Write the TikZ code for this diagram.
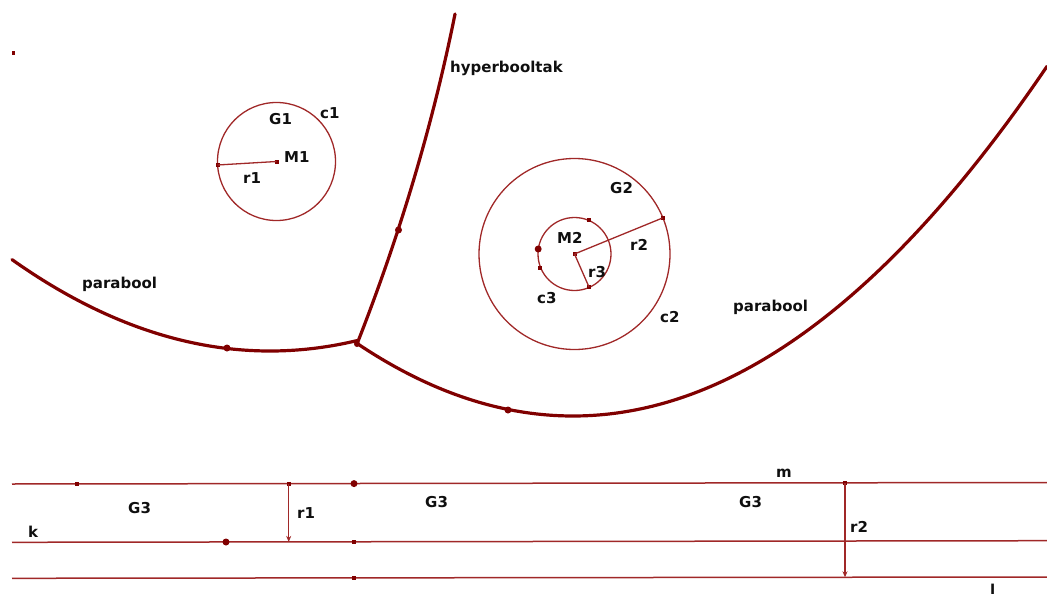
\documentclass[tikz,border=0pt]{standalone}
\usepackage{fontspec}
\setmainfont{DejaVu Sans}
\usetikzlibrary{arrows.meta}
\definecolor{curvered}{RGB}{128,0,0}
\definecolor{linered}{RGB}{160,40,40}
\definecolor{txt}{RGB}{15,15,15}
\begin{document}
\begin{tikzpicture}[x=1pt,y=-1pt,
  lbl/.style={anchor=base west,inner sep=0pt,text=txt,font=\fontsize{15}{18}\selectfont\bfseries},
  curve/.style={draw=curvered,line width=3.2pt,line join=round,line cap=round},
  circline/.style={draw=linered,line width=1.3pt},
  straight/.style={draw=linered,line width=1.5pt},
  bigdot/.style={fill=curvered,draw=none,circle,minimum size=7pt,inner sep=0pt},
  smalldot/.style={fill=curvered,draw=none,rectangle,minimum size=4pt,inner sep=0pt},
  arr/.style={straight,-{Stealth[length=6pt,width=5pt]}}
]
\useasboundingbox (0,0) rectangle (1047,594);

% tiny mark top left
\fill[curvered] (12,51) rectangle (14.5,55.5);

% conic curves
\draw[curve] plot[domain=12:357,samples=80] (\x,{351-0.001367*(\x-270)*(\x-270)});
\draw[curve] plot[domain=357:1047,samples=120] (\x,{416-0.00155*(\x-573)*(\x-573)});
\draw[curve] plot[domain=0:330,samples=60] ({357+0.3927*\x-0.00029*\x*\x},{344-\x});
\node[bigdot,minimum size=6pt] (J) at (357,344) {};
\node[bigdot] (H1) at (398.5,230) {};
\node[bigdot] (P1) at (227,348) {};
\node[bigdot] (P2) at (508,410) {};

% circle c1
\coordinate (M1) at (276.5,161.5);
\draw[circline] (M1) circle[radius=59];
\node[smalldot] (M1d) at (M1) {};
\node[smalldot] (A1) at (217.5,165) {};
\draw[circline] (M1d.center) -- (A1.center);

% circles c2, c3
\coordinate (M2) at (574.5,254);
\draw[circline] (M2) circle[radius=95.5];
\draw[circline] (M2) circle[radius=36.5];
\node[smalldot] (M2d) at (M2) {};
\node[smalldot] (B2) at (662.5,218) {};
\node[smalldot] (C3a) at (588.5,219.5) {};
\node[bigdot] (C3b) at (538.2,249) {};
\node[smalldot] (C3c) at (539.5,267.5) {};
\node[smalldot] (C3d) at (589,287) {};
\draw[circline] (M2d.center) -- (B2.center);
\draw[circline] (M2d.center) -- (C3d.center);

% parallel lines
\coordinate (T0) at (12,484);
\coordinate (T1) at (1047,482.5);
\coordinate (K0) at (12,542.3);
\coordinate (K1) at (1047,540.7);
\coordinate (L0) at (12,578.3);
\coordinate (L1) at (1047,577);
\draw[straight] (T0) -- (T1);
\draw[straight] (K0) -- (K1);
\draw[straight] (L0) -- (L1);
\node[smalldot] (T77) at (77,484) {};
\node[smalldot] (T289) at (288.7,483.7) {};
\node[bigdot] (T354) at (354,483.6) {};
\node[bigdot] (K226) at (226,542) {};
\node[smalldot] (K354) at (354,541.8) {};
\node[smalldot] (L354) at (354,578) {};
\node[smalldot] (T845) at (845,482.8) {};
\coordinate (K289) at (288.7,541.9);
\coordinate (L845) at (845,577.3);
\draw[arr] (T289.center) -- (K289);
\draw[arr] (T845.center) -- (L845);

% labels
\node[lbl] (hyp) at (450,73) {hyperbooltak};
\node[lbl] (par1) at (82,288) {parabool};
\node[lbl] (par2) at (733,311.5) {parabool};
\node[lbl] (G1) at (269,124) {G1};
\node[lbl] (c1) at (320,118) {c1};
\node[lbl] (M1l) at (284,162) {M1};
\node[lbl] (r1a) at (243,183) {r1};
\node[lbl] (G2) at (610,193) {G2};
\node[lbl] (M2l) at (557,243) {M2};
\node[lbl] (r2a) at (630,250) {r2};
\node[lbl] (r3) at (588,277) {r3};
\node[lbl] (c3) at (537,303) {c3};
\node[lbl] (c2) at (660,322) {c2};
\node[lbl] (G3a) at (128,513) {G3};
\node[lbl] (G3b) at (425,507) {G3};
\node[lbl] (G3c) at (739,507) {G3};
\node[lbl] (r1b) at (297,518) {r1};
\node[lbl] (k) at (28,537) {k};
\node[lbl] (m) at (776,477) {m};
\node[lbl] (r2b) at (850,532) {r2};
\node[lbl] (l) at (990,595) {l};
\end{tikzpicture}
\end{document}
